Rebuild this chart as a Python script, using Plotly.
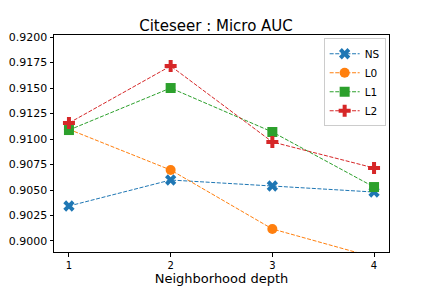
import plotly.graph_objects as go

depth = [1, 2, 3, 4]
ns = [0.90343, 0.90598, 0.90539, 0.90480]
l0 = [0.91095, 0.90696, 0.90118, 0.89840]
l1 = [0.91088, 0.91500, 0.91069, 0.90529]
l2 = [0.91157, 0.91716, 0.90971, 0.90716]
yticks = [0.9000, 0.9025, 0.9050, 0.9075, 0.9100, 0.9125, 0.9150, 0.9175, 0.9200]

series = [
    ("NS", ns, "#1f77b4", "x", 10),
    ("L0", l0, "#ff7f0e", "circle", 10),
    ("L1", l1, "#2ca02c", "square", 10),
    ("L2", l2, "#d62728", "cross", 10),
]

fig = go.Figure()
for name, vals, col, sym, sz in series:
    fig.add_trace(go.Scatter(
        x=depth, y=vals, name=name, mode="lines+markers",
        line=dict(color=col, width=1, dash="4px,1.6px"),
        marker=dict(symbol=sym, size=sz, color=col),
        cliponaxis=True,
    ))

fig.update_layout(
    template="none",
    width=432, height=288,
    margin=dict(l=54, r=43, t=35, b=36, autoexpand=False),
    paper_bgcolor="white", plot_bgcolor="white",
    font=dict(family="DejaVu Sans", color="black", size=10),
    title=dict(text="Citeseer : Micro AUC", x=0.5, xanchor="center",
               y=1 - 25.5/288, yanchor="middle", font=dict(size=15)),
    showlegend=True,
    legend=dict(x=0.99, y=0.985, xanchor="right", yanchor="top",
                bordercolor="#cccccc", borderwidth=1, bgcolor="rgba(255,255,255,0.8)",
                font=dict(size=10.5), itemwidth=30, tracegroupgap=0),
    xaxis=dict(range=[0.853, 4.147], tickvals=depth, ticktext=[str(d) for d in depth],
               automargin=False, tickfont=dict(size=10),
               showline=True, linecolor="black", linewidth=1, mirror=True,
               ticks="outside", ticklen=3.5, tickcolor="black", showgrid=False, zeroline=False,
               title=dict(text="Neighborhood depth", font=dict(size=13), standoff=4)),
    yaxis=dict(range=[0.89892, 0.92020], tickvals=yticks,
               ticktext=[f"{v:.4f}" for v in yticks],
               automargin=False, tickfont=dict(size=11),
               showline=True, linecolor="black", linewidth=1, mirror=True,
               ticks="outside", ticklen=3.5, tickcolor="black", showgrid=False, zeroline=False),
)

fig.write_html("out.html", config={"displayModeBar": False},
               post_script="document.body.style.margin='0';document.body.style.overflow='hidden';")
